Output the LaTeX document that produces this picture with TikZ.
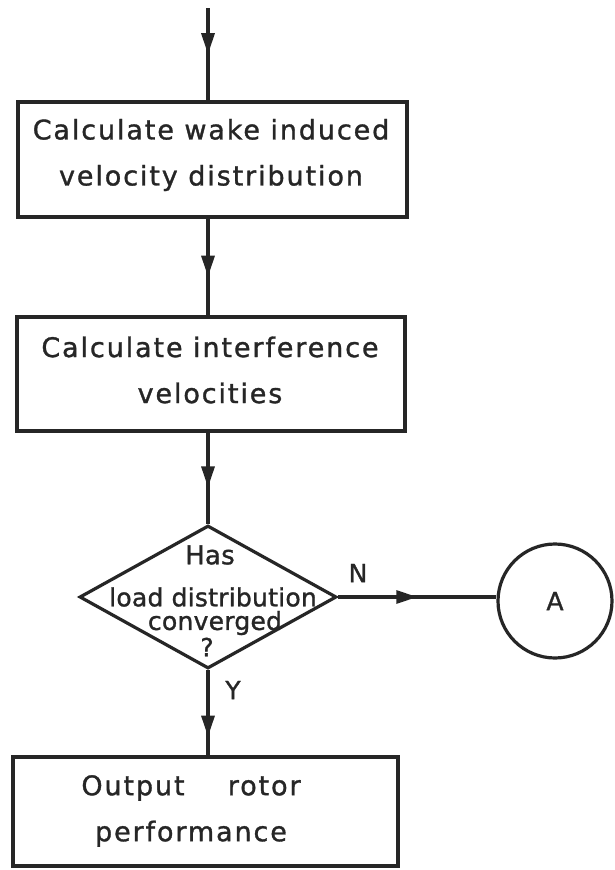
\documentclass[tikz,border=0pt]{standalone}
\usepackage{fontspec}
\setmainfont{DejaVu Sans}[LetterSpace=7,FakeBold=1.2]
\newfontfamily\tightfont{DejaVu Sans}[LetterSpace=1,FakeBold=1.2]
\usetikzlibrary{shapes.geometric,decorations.markings,arrows.meta}
\begin{document}
\begin{tikzpicture}[x=1pt,y=-1pt,
  ink/.style={draw=black!85, line width=3.2pt},
  procbox/.style={ink, rectangle, inner sep=0pt},
  lbl/.style={text=black!85, font=\fontsize{27}{46}\selectfont, align=center, inner sep=0pt},
  dlbl/.style={text=black!85, font=\tightfont\fontsize{25}{25}\selectfont, inner sep=0pt},
  arrat/.style={postaction={decorate}, decoration={markings, mark=at position #1 with {\arrow{Triangle[length=21pt,width=13pt]}}}}
]
\useasboundingbox (0,0) rectangle (615,870);
\fill[white] (0,0) rectangle (615,870);
% boxes
\node[procbox, minimum width=389pt, minimum height=115pt] (b1) at (212.5,159.5) {};
\node[procbox, minimum width=388pt, minimum height=114pt] (b2) at (211,374) {};
\node[procbox, shape=diamond, minimum width=257pt, minimum height=143pt] (d) at (208,597) {};
\node[procbox, shape=circle, minimum size=114pt] (a) at (555,601) {};
\node[procbox, minimum width=385pt, minimum height=109pt] (b3) at (205.5,811.5) {};
% texts
\node[lbl] (b1t) at (211,155) {Calculate wake induced\\velocity distribution};
\node[lbl] (b2t) at (210,370) {Calculate interference\\velocities};
\node[lbl] (b3t) at (191,811) {Output\hspace{1.6em}rotor\\performance};
\node[dlbl, font=\tightfont\fontsize{26}{26}\selectfont] (t1) at (210,555) {Has};
\node[dlbl] (t2) at (213,597) {load distribution};
\node[dlbl] (t3) at (215,623) {converged};
\node[dlbl] (t4) at (207,647) {?};
\node[dlbl] (aa) at (a) {A};
\node[dlbl] (nl) at (358,573) {N};
\node[dlbl] (yl) at (233,690) {Y};
% connectors
\coordinate (top) at (208,8);
\draw[ink, arrat=0.5] (top) -- (top |- b1.north);
\draw[ink, arrat=0.6] (top |- b1.south) -- (top |- b2.north);
\draw[ink, arrat=0.6] (top |- b2.south) -- (d.north);
\draw[ink, arrat=0.5] (d.east) -- (d.east -| a.west);
\draw[ink, arrat=0.78] (d.south) -- (d.south |- b3.north);
\end{tikzpicture}
\end{document}
